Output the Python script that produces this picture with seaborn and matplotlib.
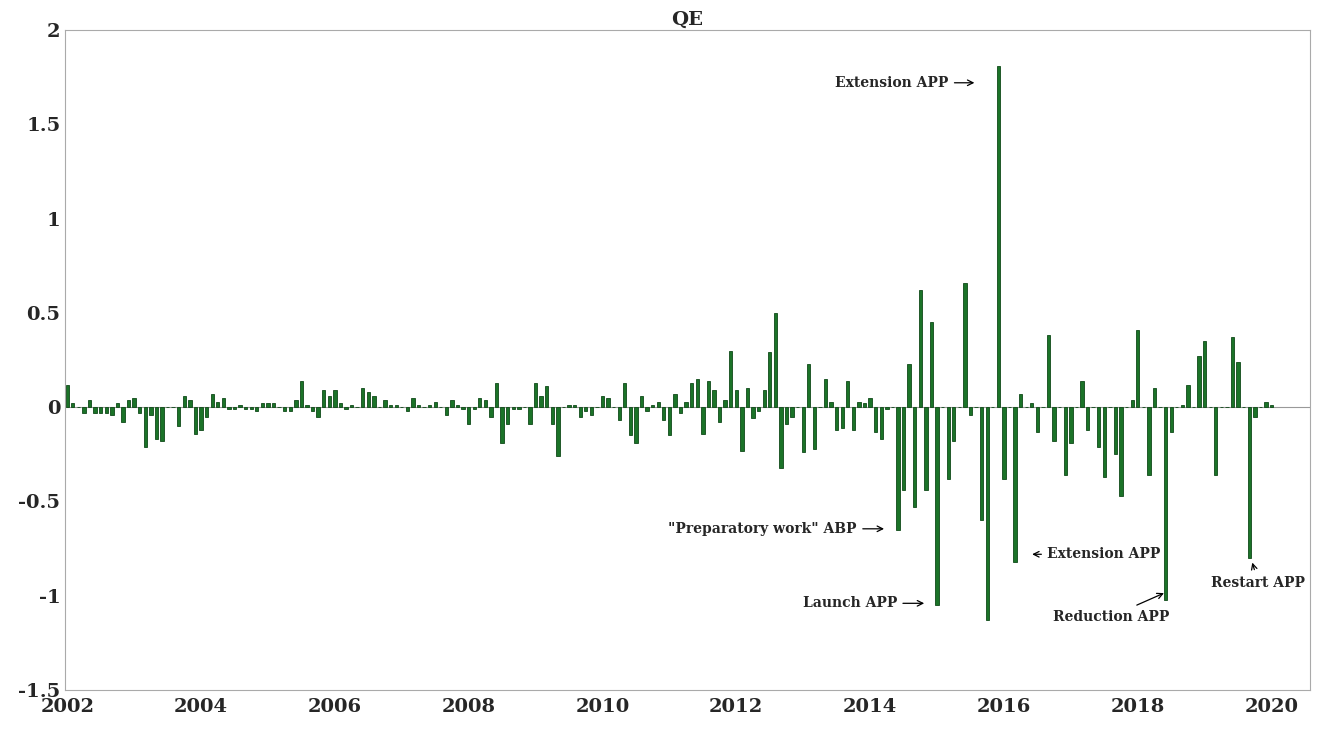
import numpy as np
import pandas as pd
import seaborn as sns
import matplotlib.pyplot as plt

# monthly QE surprise, Jan 2002 .. Jan 2020
y2002 = [0.12, 0.02, 0, -0.03, 0.04, -0.03, -0.03, -0.03, -0.04, 0.02, -0.08, 0.04]
y2003 = [0.05, -0.03, -0.21, -0.04, -0.17, -0.18, 0, 0, -0.10, 0.06, 0.04, -0.14]
y2004 = [-0.12, -0.05, 0.07, 0.03, 0.05, -0.01, -0.01, 0.01, -0.01, -0.01, -0.02, 0.02]
y2005 = [0.02, 0.02, 0, -0.02, -0.02, 0.04, 0.14, 0.01, -0.02, -0.05, 0.09, 0.06]
y2006 = [0.09, 0.02, -0.01, 0.01, 0, 0.10, 0.08, 0.06, 0, 0.04, 0.01, 0.01]
y2007 = [0, -0.02, 0.05, 0.01, 0, 0.01, 0.03, 0, -0.04, 0.04, 0.01, -0.01]
y2008 = [-0.09, -0.01, 0.05, 0.04, -0.05, 0.13, -0.19, -0.09, -0.01, -0.01, 0, -0.09]
y2009 = [0.13, 0.06, 0.11, -0.09, -0.26, 0, 0.01, 0.01, -0.05, -0.02, -0.04, 0]
y2010 = [0.06, 0.05, 0, -0.07, 0.13, -0.15, -0.19, 0.06, -0.02, 0.01, 0.03, -0.07]
y2011 = [-0.15, 0.07, -0.03, 0.03, 0.13, 0.15, -0.14, 0.14, 0.09, -0.08, 0.04, 0.30]
y2012 = [0.09, -0.23, 0.10, -0.06, -0.02, 0.09, 0.29, 0.50, -0.32, -0.09, -0.05, 0]
y2013 = [-0.24, 0.23, -0.22, 0, 0.15, 0.03, -0.12, -0.11, 0.14, -0.12, 0.03, 0.02]
y2014 = [0.05, -0.13, -0.17, -0.01, 0, -0.65, -0.44, 0.23, -0.53, 0.62, -0.44, 0.45]
y2015 = [-1.05, 0, -0.38, -0.18, 0, 0.66, -0.04, 0, -0.60, -1.13, 0, 1.81]
y2016 = [-0.38, 0, -0.82, 0.07, 0, 0.02, -0.13, 0, 0.38, -0.18, 0, -0.36]
y2017 = [-0.19, 0, 0.14, -0.12, 0, -0.21, -0.37, 0, -0.25, -0.47, 0, 0.04]
y2018 = [0.41, 0, -0.36, 0.10, 0, -1.02, -0.13, 0, 0.01, 0.12, 0, 0.27]
y2019 = [0.35, 0, -0.36, 0, 0, 0.37, 0.24, 0, -0.80, -0.05, 0, 0.03]
y2020 = [0.01]

values = np.array(y2002 + y2003 + y2004 + y2005 + y2006 + y2007 + y2008 + y2009 + y2010
                  + y2011 + y2012 + y2013 + y2014 + y2015 + y2016 + y2017 + y2018 + y2019 + y2020)
dates = 2002 + np.arange(len(values)) / 12

df = pd.DataFrame({"date": dates, "qe": values})

sns.set_style("white")
plt.rcParams["font.family"] = ["DejaVu Serif"]
plt.rcParams["font.weight"] = "bold"

fig = plt.figure(figsize=(13.31, 7.31), dpi=100)
ax = fig.add_axes([0.049, 0.056, 0.935, 0.903])
sns.barplot(data=df, x="date", y="qe", native_scale=True, color="#1b7328",
            saturation=1, width=0.6, edgecolor="#0f4a18", linewidth=0.6, ax=ax)
ax.axhline(0, color="#999999", lw=0.8, zorder=0)

ax.set_xlim(2001.97, 2020.57)
ax.set_ylim(-1.5, 2)
ax.set_xticks(range(2002, 2021, 2))
ax.set_xticklabels([str(y) for y in range(2002, 2021, 2)])
ax.set_yticks([-1.5, -1, -0.5, 0, 0.5, 1, 1.5, 2])
ax.set_yticklabels(["-1.5", "-1", "-0.5", "0", "0.5", "1", "1.5", "2"])
ax.tick_params(direction="in", labelsize=14, length=4, color="#888888")
ax.tick_params(axis="x", pad=6)
for lab in ax.get_xticklabels() + ax.get_yticklabels():
    lab.set_fontweight("bold")
for s in ax.spines.values():
    s.set_color("#aaaaaa")
ax.set_xlabel("")
ax.set_ylabel("")
ax.set_title("QE", fontsize=14, fontweight="bold", pad=4)

arr = dict(arrowstyle="->", color="black", lw=0.9)
fs = 10
ax.annotate("Extension APP", xy=(2015.6, 1.72), xytext=(2015.17, 1.72), ha="right", va="center",
            fontsize=fs, fontweight="bold", arrowprops=arr)
ax.annotate('"Preparatory work" ABP', xy=(2014.25, -0.645), xytext=(2013.8, -0.645), ha="right",
            va="center", fontsize=fs, fontweight="bold", arrowprops=arr)
ax.annotate("Launch APP", xy=(2014.85, -1.04), xytext=(2014.4, -1.04), ha="right", va="center",
            fontsize=fs, fontweight="bold", arrowprops=arr)
ax.annotate("Extension APP", xy=(2016.38, -0.78), xytext=(2016.65, -0.78), ha="left", va="center",
            fontsize=fs, fontweight="bold", arrowprops=arr)
ax.annotate("Reduction APP", xy=(2018.43, -0.98), xytext=(2017.6, -1.11), ha="center", va="center",
            fontsize=fs, fontweight="bold", arrowprops=arr)
ax.annotate("Restart APP", xy=(2019.7, -0.81), xytext=(2019.8, -0.93), ha="center", va="center",
            fontsize=fs, fontweight="bold", arrowprops=arr)

fig.savefig("out.png", dpi=100)
